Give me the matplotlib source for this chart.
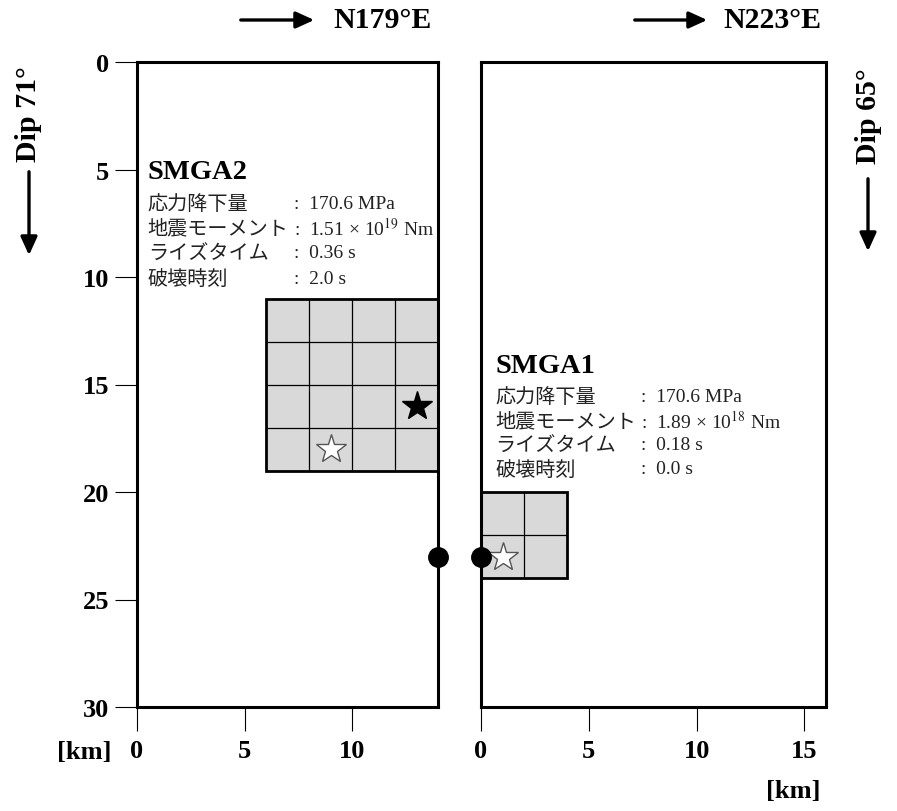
import matplotlib as mpl
mpl.use('Agg')
import matplotlib.pyplot as plt
from matplotlib.patches import Rectangle, FancyArrowPatch

plt.rcParams['mathtext.fontset'] = 'stix'

SERIF = ['Liberation Serif', 'DejaVu Serif']
JP = ['Noto Sans CJK JP', 'DejaVu Sans']

# fault planes (km)
left_len, right_len, width = 14, 16, 30
left_xticks = [0, 5, 10]
right_xticks = [0, 5, 10, 15]
yticks = [0, 5, 10, 15, 20, 25, 30]

# SMGA areas: x0, y0, size, n cells
smga2 = (6, 11, 8, 4)
smga1 = (0, 20, 4, 2)

# stars / hypocenters
smga2_start = (9, 18)
smga2_black = (13, 16)
smga1_start = (1, 23)
hypo_left = (14, 23)
hypo_right = (0, 23)

labels = ['応力降下量', '地震モーメント', 'ライズタイム', '破壊時刻']
smga2_vals = ['170.6 MPa', r'1.51 × 10$^{19}$ Nm', '0.36 s', '2.0 s']
smga1_vals = ['170.6 MPa', r'1.89 × 10$^{18}$ Nm', '0.18 s', '0.0 s']


def drawSMGA(ax, box):
    x0, y0, size, n = box
    ax.add_patch(Rectangle((x0, y0), size, size, facecolor='#d9d9d9',
                           edgecolor='black', lw=2.0, zorder=2))
    step = size / n
    for i in range(1, n):
        ax.vlines(x0 + i * step, y0, y0 + size, color='black', lw=0.9, zorder=3)
        ax.hlines(y0 + i * step, x0, x0 + size, color='black', lw=0.9, zorder=3)


def drawInfo(ax, x, ytitle, ylines, title, vals, xcolon):
    ax.text(x, ytitle, title, family=SERIF, weight='bold', fontsize=20.5,
            va='center', ha='left')
    for lab, val, yy in zip(labels, vals, ylines):
        ax.text(x, yy, lab, family=JP, fontsize=14.5, va='center', ha='left',
                color='#222222')
        ax.text(xcolon, yy, ':  ' + val, family=SERIF, fontsize=14,
                va='center', ha='left', color='#222222')


fig = plt.figure(figsize=(8.97, 8.12), dpi=100)
axL = fig.add_axes([137 / 897, 1 - 708 / 812, 301 / 897, 645 / 812])
axR = fig.add_axes([481 / 897, 1 - 708 / 812, 345 / 897, 645 / 812])

for ax, xl, xt in [(axL, left_len, left_xticks), (axR, right_len, right_xticks)]:
    ax.set_xlim(0, xl)
    ax.set_ylim(width, 0)
    for s in ax.spines.values():
        s.set_linewidth(2.2)
    ax.set_xticks(xt)
    ax.tick_params(axis='x', direction='out', length=17, width=0.8, pad=6)
    for t in ax.get_xticklabels():
        t.set_fontfamily(SERIF)
        t.set_fontweight('bold')
        t.set_fontsize(19)

axL.set_yticks(yticks)
axL.tick_params(axis='y', direction='out', length=16, width=0.8, pad=4)
for t in axL.get_yticklabels():
    t.set_fontfamily(SERIF)
    t.set_fontweight('bold')
    t.set_fontsize(19)
axR.set_yticks([])

drawSMGA(axL, smga2)
drawSMGA(axR, smga1)

axL.plot(*smga2_black, marker='*', ms=22, color='black', zorder=5)
axL.plot(*smga2_start, marker='*', ms=22, mfc='white', mec='#555555', mew=1, zorder=5)
axR.plot(*smga1_start, marker='*', ms=22, mfc='white', mec='#555555', mew=1, zorder=5)
axL.plot(*hypo_left, marker='o', ms=14, color='black', clip_on=False, zorder=6)
axR.plot(*hypo_right, marker='o', ms=14, color='black', clip_on=False, zorder=6)

drawInfo(axL, 0.5, 5.07, [6.56, 7.72, 8.88, 10.05], 'SMGA2', smga2_vals, 7.3)
drawInfo(axR, 0.65, 14.1, [15.56, 16.68, 17.81, 18.93], 'SMGA1', smga1_vals, 7.4)


def figArrow(p0, p1):
    a = FancyArrowPatch(p0, p1, transform=fig.transFigure,
                        arrowstyle='-|>,head_length=0.55,head_width=0.25',
                        mutation_scale=20, lw=2.4, color='black')
    fig.patches.append(a)


def fx(px):
    return px / 897


def fy(py):
    return 1 - py / 812


figArrow((fx(238), fy(21)), (fx(317), fy(21)))
figArrow((fx(632), fy(21)), (fx(710), fy(21)))
figArrow((fx(29), fy(170)), (fx(29), fy(259)))
figArrow((fx(868), fy(177)), (fx(868), fy(255)))

fig.text(fx(333), fy(21), 'N179°E', family=SERIF, weight='bold', fontsize=21.5,
         va='center', ha='left')
fig.text(fx(723), fy(21), 'N223°E', family=SERIF, weight='bold', fontsize=21.5,
         va='center', ha='left')
fig.text(fx(29), fy(114), 'Dip 71°', family=SERIF, weight='bold', fontsize=21.5,
         va='center', ha='center', rotation=90)
fig.text(fx(868), fy(116), 'Dip 65°', family=SERIF, weight='bold', fontsize=21.5,
         va='center', ha='center', rotation=90)
fig.text(fx(84), fy(753), '[km]', family=SERIF, weight='bold', fontsize=19,
         va='center', ha='center')
fig.text(fx(793), fy(792), '[km]', family=SERIF, weight='bold', fontsize=19,
         va='center', ha='center')

fig.savefig('out.png', dpi=100)
